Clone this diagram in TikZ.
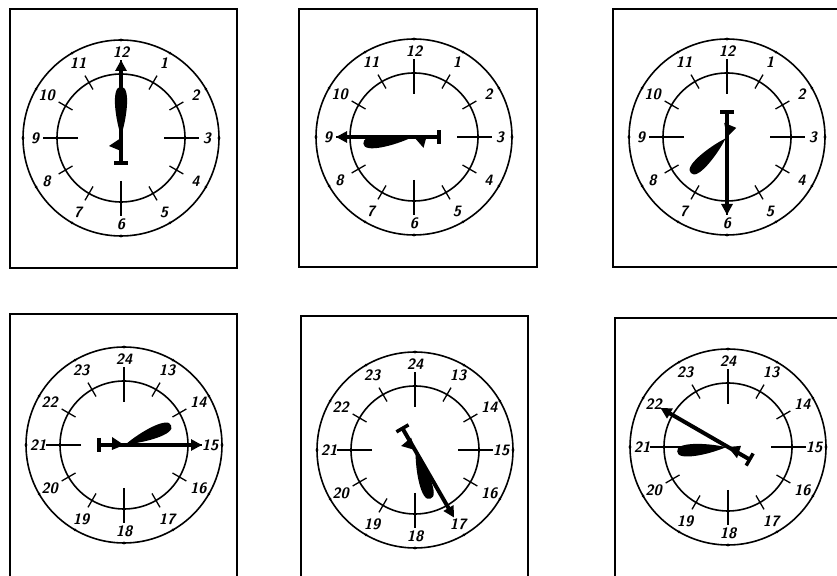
\documentclass[tikz,border=0pt]{standalone}
\usepackage{fontspec}
\usepackage{tikz}
\usetikzlibrary{arrows.meta,calc}

\tikzset{
  frame/.style={line width=1.8pt},
  ring/.style={line width=1.6pt},
  tick/.style={line width=1.3pt},
  num/.style={font=\fontsize{15}{15}\selectfont\sffamily\bfseries\itshape, inner sep=0pt},
  minhand/.style={line width=4pt,-{Triangle[length=11pt,width=11pt]}},
  tailbar/.style={line width=3.5pt},
  fishhand/.style={fill=black}
}

\newcommand{\clockface}[6]{%
  \coordinate (#1) at (#2);
  \draw[ring] (#1) circle (98pt);
  \draw[ring] (#1) circle (64pt);
  \foreach \k in {1,...,12}{
    \pgfmathsetmacro{\ang}{90-30*\k}
    \pgfmathtruncatemacro{\lab}{\k+#3}
    \pgfmathtruncatemacro{\quarter}{mod(\k,3)}
    \ifnum\quarter=0
      \draw[tick] ($(#1)+(\ang:43)$) -- ($(#1)+(\ang:78)$);
    \else
      \draw[tick] ($(#1)+(\ang:56)$) -- ($(#1)+(\ang:72)$);
    \fi
    \fill ($(#1)+(\ang:98)$) circle (1.6pt);
    \node[num] (#1-n\k) at ($(#1)+(\ang:86)$) {\lab};
  }
  \fill[fishhand,shift={(#1)},rotate=#4] (2,0) .. controls (20,6) and (52,10) .. (51,0)
    .. controls (52,-10) and (20,-6) .. (2,0) -- cycle;
  \fill[fishhand,shift={(#1)},rotate=#4,yscale=#6] (0,0) -- (-13,0) -- (-8,-12) -- cycle;
  \coordinate (#1-tip) at ($(#1)+({#5}:78)$);
  \coordinate (#1-tail) at ($(#1)+({#5+180}:25)$);
  \draw[minhand] (#1-tail) -- (#1-tip);
  \draw[tailbar] ($(#1-tail)+({#5+90}:7)$) -- ($(#1-tail)+({#5-90}:7)$);
}

\begin{document}
\begin{tikzpicture}[x=1pt,y=1pt]
  \useasboundingbox (0,0) rectangle (837,575);
  \clip (0,0) rectangle (837,575);

  \draw[frame] (10,566) rectangle (237,307);
  \draw[frame] (299,566) rectangle (537,308);
  \draw[frame] (613,566) rectangle (850,308);
  \draw[frame] (10,261) rectangle (237,-10);
  \draw[frame] (301,259) rectangle (528,-10);
  \draw[frame] (615,257) rectangle (850,-10);

  \clockface{twelve}{121,437}{0}{90}{90}{-1}
  \clockface{eightfortyfive}{414,438}{0}{-172.5}{-180}{-1}
  \clockface{halfseven}{727,438}{0}{-135}{-90}{1}
  \clockface{fourteenfifteen}{124,130}{12}{22.5}{0}{-1}
  \clockface{seventeentwentyfive}{415,125}{12}{-72.5}{-60}{1}
  \clockface{twentyfifty}{728,128}{12}{-175}{150}{-1}
\end{tikzpicture}
\end{document}
